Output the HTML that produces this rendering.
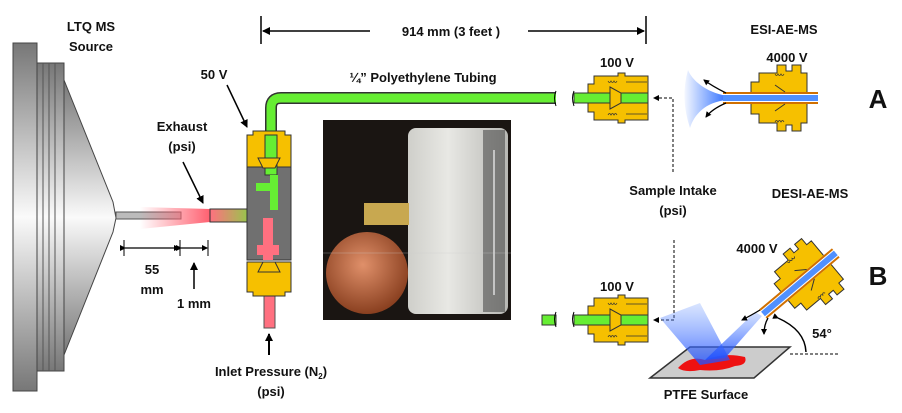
<!DOCTYPE html>
<html><head><meta charset="utf-8"><style>
html,body{margin:0;padding:0;background:#fff;width:902px;height:413px;overflow:hidden}
svg{display:block}
text{font-family:"Liberation Sans",Arial,sans-serif;font-weight:bold;fill:#111}
</style></head><body>
<svg width="902" height="413" viewBox="0 0 902 413" xmlns="http://www.w3.org/2000/svg">
<defs>
<linearGradient id="gv" x1="0" y1="0" x2="0" y2="1">
<stop offset="0" stop-color="#777"/><stop offset="0.5" stop-color="#fafafa"/><stop offset="1" stop-color="#777"/></linearGradient>
<linearGradient id="plume" x1="0" y1="0" x2="1" y2="0">
<stop offset="0" stop-color="#ff6070" stop-opacity="0"/><stop offset="1" stop-color="#ff6070"/></linearGradient>
<linearGradient id="pg" x1="0" y1="0" x2="1" y2="0">
<stop offset="0" stop-color="#ff7080"/><stop offset="1" stop-color="#66ee33"/></linearGradient>
<linearGradient id="spray" x1="1" y1="0" x2="0" y2="0">
<stop offset="0" stop-color="#3070ff"/><stop offset="1" stop-color="#3070ff" stop-opacity="0.05"/></linearGradient>
<linearGradient id="spray2" x1="0" y1="1" x2="0" y2="0">
<stop offset="0" stop-color="#2050ff"/><stop offset="1" stop-color="#6090ff" stop-opacity="0.3"/></linearGradient>
<radialGradient id="penny" cx="0.45" cy="0.4" r="0.6">
<stop offset="0" stop-color="#e0906a"/><stop offset="1" stop-color="#8a4020"/></radialGradient>
<linearGradient id="cyl" x1="0" y1="0" x2="1" y2="0">
<stop offset="0" stop-color="#cfcfca"/><stop offset="0.4" stop-color="#e8e8e4"/><stop offset="1" stop-color="#b8b8b4"/></linearGradient>
<marker id="ah" markerWidth="8" markerHeight="8" refX="7" refY="4" orient="auto" markerUnits="userSpaceOnUse"><path d="M0,0 L8,4 L0,8 z" fill="#000"/></marker>
<marker id="ahs" markerWidth="6" markerHeight="6" refX="5" refY="3" orient="auto" markerUnits="userSpaceOnUse"><path d="M0,0 L6,3 L0,6 z" fill="#000"/></marker>
<g id="fit">
<path d="M0,-14 h6 v-8 h24 v-3 h7 v3 h23 v44 h-23 v3 h-7 v-3 h-24 v-8 h-6 z" fill="#f6c000" stroke="#333" stroke-width="1"/>
<rect x="-14" y="-5" width="74" height="10" fill="#66ee33" stroke="#333" stroke-width="1"/>
<path d="M22,-11 L33,-5 L33,5 L22,11 z" fill="#f6c000" stroke="#333" stroke-width="1"/>
<path d="M20,-17 q1.5,3 3,0 q1.5,3 3,0 q1.5,3 3,0 M20,17 q1.5,-3 3,0 q1.5,-3 3,0 q1.5,-3 3,0 M38,-16 h21 M38,16 h21" stroke="#333" fill="none" stroke-width="0.8"/>
</g>
<g id="esi">
<path d="M28,-16 h8 v-9 h18 v-8 h9 v6 h6 v-6 h9 v8 h6 v50 h-6 v8 h-9 v-6 h-6 v6 h-9 v-8 h-18 v-9 h-8 z" fill="#f6c000" stroke="#333" stroke-width="1"/>
<rect x="0" y="-6" width="95" height="12" fill="#fff"/>
<rect x="0" y="-6" width="95" height="2" fill="#d07000"/>
<rect x="0" y="4" width="95" height="2" fill="#d07000"/>
<rect x="0" y="-3" width="95" height="6" fill="#5090ff"/>
<path d="M52,-13 L62,-6 M52,13 L62,6" stroke="#333" fill="none"/>
<path d="M52,-24 q1.5,3 3,0 q1.5,3 3,0 q1.5,3 3,0 M52,24 q1.5,-3 3,0 q1.5,-3 3,0 q1.5,-3 3,0" stroke="#333" fill="none" stroke-width="0.8"/>
</g>
</defs>

<!-- MS source -->
<rect x="13" y="43" width="24" height="348" fill="url(#gv)" stroke="#444"/>
<rect x="37" y="63" width="27" height="308" fill="url(#gv)" stroke="#444"/>
<path d="M43,63 v308 M49,63 v308 M55,63 v308" stroke="#555"/>
<path d="M64,80 L113,202 L116,218 L113,232 L64,355 z" fill="url(#gv)" stroke="#444"/>
<rect x="116" y="212" width="65" height="7" fill="#bbb" stroke="#555"/>
<path d="M140,207 L210,209 L210,222 L140,229 z" fill="url(#plume)"/>
<rect x="210" y="209" width="56" height="13" fill="url(#pg)" stroke="#333"/>

<text x="91" y="31" font-size="13" text-anchor="middle">LTQ MS</text>
<text x="91" y="51" font-size="13" text-anchor="middle">Source</text>
<text x="182" y="131" font-size="13" text-anchor="middle">Exhaust</text>
<text x="182" y="151" font-size="13" text-anchor="middle">(psi)</text>
<line x1="183" y1="162" x2="203" y2="203" stroke="#000" stroke-width="1.5" marker-end="url(#ah)"/>
<line x1="124" y1="240" x2="124" y2="256" stroke="#000"/>
<line x1="180" y1="240" x2="180" y2="256" stroke="#000"/>
<line x1="208" y1="240" x2="208" y2="256" stroke="#000"/>
<line x1="125" y1="248" x2="179" y2="248" stroke="#000" stroke-width="1.3" marker-start="url(#ahs)" marker-end="url(#ahs)"/>
<line x1="181" y1="248" x2="207" y2="248" stroke="#000" stroke-width="1.3" marker-start="url(#ahs)" marker-end="url(#ahs)"/>
<text x="152" y="274" font-size="13" text-anchor="middle">55</text>
<text x="152" y="294" font-size="13" text-anchor="middle">mm</text>
<text x="194" y="308" font-size="13" text-anchor="middle">1 mm</text>
<line x1="194" y1="289" x2="194" y2="263" stroke="#000" stroke-width="1.5" marker-end="url(#ah)"/>

<!-- green tubing -->
<path d="M271,135 V108 Q271,98 281,98 H556" fill="none" stroke="#333" stroke-width="12"/>
<path d="M271,135 V108 Q271,98 281,98 H556" fill="none" stroke="#66ee33" stroke-width="9"/>
<rect x="264" y="290" width="11" height="38" fill="#ff7080" stroke="#555"/>
<!-- tee -->
<rect x="247" y="165" width="44" height="95" fill="#707070" stroke="#333"/>
<path d="M247,135 h6 v-4 h32 v4 h6 v32 h-44 z" fill="#f6c000" stroke="#333"/>
<path d="M247,262 h44 v30 h-6 v4 h-32 v-4 h-6 z" fill="#f6c000" stroke="#333"/>
<path d="M265,135 h12 v40 h-12 z" fill="#66ee33" stroke="#333"/>
<path d="M256,183 h22 v8 h-22 z M270,175 h8 v35 h-8z" fill="#66ee33"/>
<path d="M263,218 h10 v42 h-10 z M257,245 h22 v10 h-22 z" fill="#ff7080"/>
<path d="M258,158 L280,158 L275,168 L263,168 z M258,272 L280,272 L275,262 L263,262z" fill="#f6c000" stroke="#333"/>
<line x1="269" y1="355" x2="269" y2="334" stroke="#000" stroke-width="2" marker-end="url(#ah)"/>
<text x="271" y="376" font-size="13" text-anchor="middle">Inlet Pressure (N<tspan font-size="8" dy="3">2</tspan><tspan dy="-3">)</tspan></text>
<text x="271" y="396" font-size="13" text-anchor="middle">(psi)</text>
<text x="214" y="79" font-size="13" text-anchor="middle">50 V</text>
<line x1="227" y1="85" x2="247" y2="127" stroke="#000" stroke-width="1.5" marker-end="url(#ah)"/>

<!-- photo -->
<rect x="323" y="120" width="188" height="200" fill="#1a1512"/>
<rect x="408" y="128" width="100" height="186" rx="8" fill="url(#cyl)"/>
<rect x="483" y="130" width="22" height="182" fill="#333" opacity="0.5"/>
<line x1="494" y1="150" x2="494" y2="295" stroke="#ddd" stroke-width="1.5"/>
<rect x="364" y="203" width="45" height="22" fill="#c8a850"/>
<circle cx="367" cy="273" r="41" fill="url(#penny)"/>
<line x1="323" y1="253" x2="511" y2="253" stroke="#ccc" stroke-width="0.5" opacity="0.6"/>

<!-- top dimension -->
<line x1="261" y1="16" x2="261" y2="44" stroke="#000" stroke-width="1.5"/>
<line x1="370" y1="31" x2="263" y2="31" stroke="#000" stroke-width="1.5" marker-end="url(#ah)"/>
<line x1="528" y1="31" x2="644" y2="31" stroke="#000" stroke-width="1.5" marker-end="url(#ah)"/>
<line x1="646" y1="16" x2="646" y2="44" stroke="#000" stroke-width="1.5"/>
<text x="451" y="36" font-size="13" text-anchor="middle">914 mm (3 feet )</text>
<text x="423" y="82" font-size="13" text-anchor="middle">¼” Polyethylene Tubing</text>

<!-- fitting A -->
<rect x="556" y="90" width="20" height="16" fill="#fff"/>
<path d="M556,91 q-3,7 0,15 M574,91 q-3,7 0,15" stroke="#000" fill="none"/>
<g transform="translate(588,98)"><use href="#fit"/></g>
<text x="617" y="67" font-size="13" text-anchor="middle">100 V</text>

<!-- fitting B -->
<rect x="542" y="315" width="14" height="10" fill="#66ee33" stroke="#333"/>
<path d="M556,312 q-3,7 0,15 M574,312 q-3,7 0,15" stroke="#000" fill="none"/>
<g transform="translate(588,320)"><use href="#fit"/></g>
<text x="617" y="291" font-size="13" text-anchor="middle">100 V</text>

<!-- dashed -->
<path d="M673,172 V98 H654" stroke="#000" stroke-dasharray="3,2" fill="none" marker-end="url(#ahs)"/>
<path d="M674,240 V320 H654" stroke="#000" stroke-dasharray="3,2" fill="none" marker-end="url(#ahs)"/>
<text x="673" y="195" font-size="13" text-anchor="middle">Sample Intake</text>
<text x="673" y="215" font-size="13" text-anchor="middle">(psi)</text>

<!-- ESI A -->
<path d="M727,96 C705,92 692,80 688,70 Q680,98 690,128 C694,115 705,102 727,100 z" fill="url(#spray)"/>
<g transform="translate(723,98)"><use href="#esi"/></g>
<path d="M726,93 Q712,86 704,80" stroke="#000" fill="none" stroke-width="1.3" marker-end="url(#ahs)"/>
<path d="M726,103 Q712,109 706,117" stroke="#000" fill="none" stroke-width="1.3" marker-end="url(#ahs)"/>
<text x="784" y="34" font-size="13" text-anchor="middle">ESI-AE-MS</text>
<text x="787" y="62" font-size="13" text-anchor="middle">4000 V</text>
<text x="878" y="108" font-size="26" text-anchor="middle">A</text>

<!-- DESI B -->
<text x="810" y="198" font-size="13" text-anchor="middle">DESI-AE-MS</text>
<text x="757" y="253" font-size="13" text-anchor="middle">4000 V</text>
<text x="878" y="285" font-size="26" text-anchor="middle">B</text>
<path d="M650,378 L690,347 L790,347 L754,378 z" fill="#ccc" stroke="#333" stroke-width="1.5"/>
<path d="M678,368 Q690,355 705,360 Q725,352 745,357 Q748,365 735,366 Q720,372 700,370 Q685,373 678,368z" fill="#ee1111"/>
<path d="M660,318 L700,303 L730,360 L700,365 z" fill="url(#spray2)" opacity="0.8"/>
<path d="M762,316 L725,358 L705,360 L755,312 z" fill="url(#spray2)" opacity="0.9"/>
<g transform="translate(763,314) rotate(-40)"><use href="#esi"/></g>
<path d="M760,310 Q750,316 742,320" stroke="#000" fill="none" stroke-width="1.3" marker-end="url(#ahs)"/>
<path d="M768,318 Q764,325 764,334" stroke="#000" fill="none" stroke-width="1.3" marker-end="url(#ahs)"/>
<path d="M778,318 Q805,330 806,352" stroke="#000" fill="none" stroke-width="1.5" marker-start="url(#ahs)"/>
<line x1="790" y1="354" x2="838" y2="354" stroke="#000" stroke-dasharray="3,2"/>
<text x="822" y="338" font-size="13" text-anchor="middle">54°</text>
<text x="706" y="399" font-size="13" text-anchor="middle">PTFE Surface</text>
</svg>
</body></html>
